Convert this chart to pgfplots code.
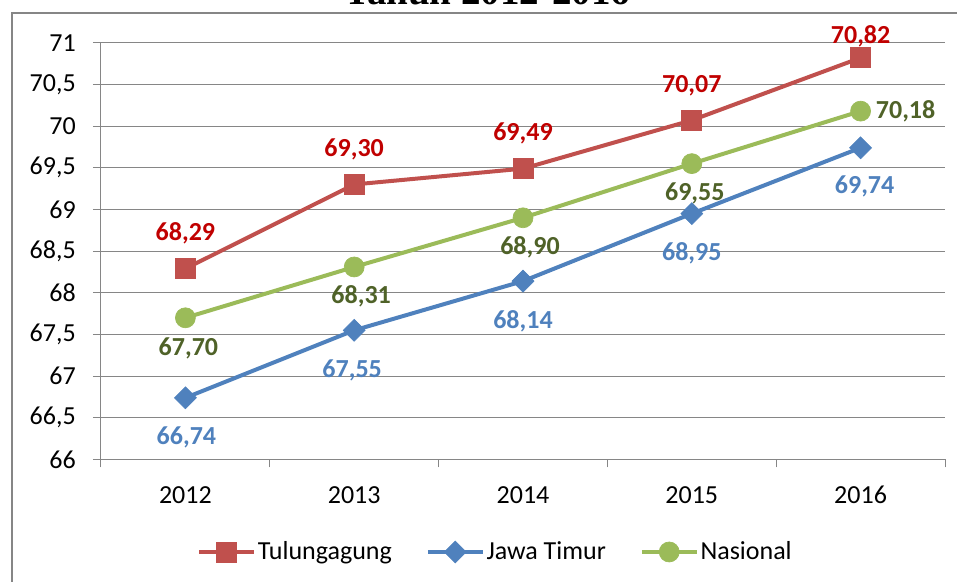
\documentclass[border=0pt]{standalone}
\usepackage{pgfplots}
\pgfplotsset{compat=1.18}
\usepackage{pgfplotstable}
\usepackage{fontspec}
\setmainfont{Carlito}
\newfontfamily\titlefont{Liberation Serif}
\definecolor{tred}{RGB}{192,80,77}
\definecolor{tredlab}{RGB}{192,0,0}
\definecolor{jblue}{RGB}{79,129,189}
\definecolor{ngreen}{RGB}{155,187,89}
\definecolor{ngreenlab}{RGB}{79,98,40}
\definecolor{gridgray}{RGB}{134,134,134}

\pgfplotstableread{
x y lab dx dy
0 68.29 68,29 0 27
1 69.30 69,30 0 27
2 69.49 69,49 0 27
3 70.07 70,07 0 27
4 70.82 70,82 0 17
}\tulung
\pgfplotstableread{
x y lab dx dy
0 66.74 66,74 0.75 -29.25
1 67.55 67,55 -1.5 -29.25
2 68.14 68,14 0 -29.25
3 68.95 68,95 0 -29.25
4 69.74 69,74 3 -28.5
}\jatim
\pgfplotstableread{
x y lab dx dy
0 67.70 67,70 2.25 -22.5
1 68.31 68,31 5.25 -21
2 68.90 68,90 5.25 -21.75
3 69.55 69,55 2.25 -21.75
4 70.18 70,18 33.75 0.75
}\nasional

\pgfplotsset{
 lbl/.style={
  nodes near coords, point meta=explicit symbolic,
  visualization depends on={\thisrow{dx}\as\dx},
  visualization depends on={\thisrow{dy}\as\dy},
  nodes near coords style={font=\bfseries\fontsize{19.5}{23}\selectfont, anchor=base,
    xshift=\dx pt, yshift=\dy pt-6.15pt, inner sep=0pt, text=#1, rotate=0},
 }
}

\begin{document}
\begin{tikzpicture}
\path[use as bounding box] (0,0) rectangle (717.75pt,436.5pt);
\draw[gridgray, line width=1.5pt] (9pt,-5pt) -- (9pt,426.75pt) -- (730pt,426.75pt);
\node[font=\titlefont\bfseries\fontsize{29.25}{32}\selectfont, anchor=base, inner sep=0pt] at (365.6pt,432.75pt) {Tahun 2012-2016};
\begin{axis}[
 at={(75.75pt,91.9pt)}, anchor=south west, scale only axis,
 width=633pt, height=312.5pt,
 xmin=-0.5, xmax=4.5, ymin=66, ymax=71,
 xtick={-0.5,0.5,1.5,2.5,3.5,4.5}, x tick label as interval,
 xticklabels={2012,2013,2014,2015,2016},
 ytick={66,66.5,...,71},
 axis lines=left, axis line style={-, gridgray, line width=0.75pt},
 ymajorgrids, grid style={gridgray, line width=0.75pt},
 tick align=outside, major tick length=6pt, tick style={gridgray, line width=0.75pt},
 /pgf/number format/use comma,
 /pgf/number format/assume math mode=true,
 ticklabel style={font=\fontsize{19.5}{23}\selectfont, inner sep=0pt, text=black},
 yticklabel style={xshift=-12.75pt},
 xticklabel style={yshift=-14pt},
 clip=false,
 legend style={at={(0.1137,-0.222)}, anchor=west, draw=none, fill=none, inner sep=0pt,
   legend columns=-1, font=\fontsize{19.5}{23}\selectfont, nodes={inner sep=1.5pt},
   /tikz/every even column/.append style={column sep=24pt}},
 legend cell align=left,
 legend image code/.code={\draw[mark repeat=2,mark phase=2,#1] plot coordinates {(0pt,0pt) (20.5pt,0pt) (41pt,0pt)};},
]
\addplot[tred, line width=3pt, mark=square*, mark size=7.5pt,
  mark options={solid, fill=tred, draw=tred, line width=0.5pt}, lbl=tredlab]
  table[x=x, y=y, meta=lab] {\tulung};
\addlegendentry{Tulungagung}
\addplot[jblue, line width=3pt, mark=square*, mark size=5.8pt,
  mark options={solid, fill=jblue, draw=jblue, line width=0.5pt, rotate=45}, lbl=jblue]
  table[x=x, y=y, meta=lab] {\jatim};
\addlegendentry{Jawa Timur}
\addplot[ngreen, line width=3pt, mark=*, mark size=7.5pt,
  mark options={solid, fill=ngreen, draw=ngreen, line width=0.5pt}, lbl=ngreenlab]
  table[x=x, y=y, meta=lab] {\nasional};
\addlegendentry{Nasional}
\end{axis}
\end{tikzpicture}
\end{document}
